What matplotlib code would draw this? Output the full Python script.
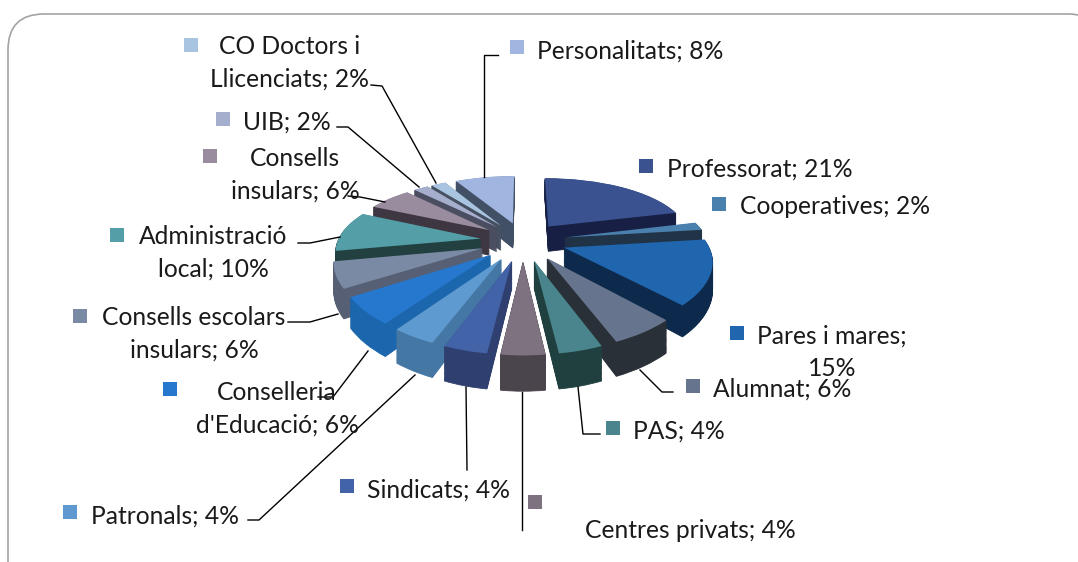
import numpy as np
import matplotlib
matplotlib.use('Agg')
import matplotlib.pyplot as plt
from matplotlib.patches import FancyBboxPatch, Rectangle
from matplotlib.transforms import Transform

plt.rcParams['font.family'] = ['Lato', 'DejaVu Sans']

# percentatges, clockwise from 12 o'clock
names = ['Professorat', 'Cooperatives', 'Pares i mares', 'Alumnat', 'PAS',
         'Centres privats', 'Sindicats', 'Patronals', "Conselleria\nd'Educació",
         'Consells escolars\ninsulars', 'Administració\nlocal', 'Consells\ninsulars',
         'UIB', 'CO Doctors i\nLlicenciats', 'Personalitats']
values = [21, 2, 15, 6, 4, 4, 4, 4, 6, 6, 10, 6, 2, 2, 8]

top_colors = ['#3a5390', '#4a80ae', '#1f66ae', '#66758d', '#4a858d', '#7f7280', '#4363a9',
              '#5e9acf', '#2678cf', '#7a8aa5', '#549ea8', '#9a8c9f', '#a6aece', '#a9c4e0', '#a0b5e0']
side_colors = ['#171f45', '#213347', '#0d2a4d', '#2a3038', '#20403f', '#4a444c', '#2f4070',
               '#4577a5', '#1b66ad', '#565f73', '#21403f', '#3e3640', '#4a4e60', '#465060', '#415064']

# label x, y, alignment / legend key x, y (pixels)
label_pos = [(667, 169, 'left'), (740, 207, 'left'), (832, 352, 'center'), (713, 389, 'left'),
             (633, 431, 'left'), (585, 531, 'left'), (367, 490, 'left'), (91, 516, 'left'),
             (277, 409, 'center'), (194, 334, 'center'), (213, 253, 'center'), (295, 175, 'center'),
             (243, 122, 'left'), (290, 63, 'center'), (537, 51, 'left')]
key_pos = [(646, 166), (719, 204), (737, 333), (693, 386), (613, 428), (535, 502), (347, 486),
           (70, 512), (170, 389), (80, 316), (117, 235), (210, 156), (223, 119), (191, 45), (517, 47)]
leaders = [[(640, 370), (662, 392), (673, 392)],
           [(578, 387), (583, 434), (600, 434)],
           [(522, 392), (522, 530)],
           [(466, 387), (467, 470)],
           [(415, 375), (259, 520), (248, 520)],
           [(368, 351), (333, 397), (318, 397)],
           [(338, 314), (310, 322), (288, 322)],
           [(340, 237), (310, 243), (298, 243)],
           [(385, 202), (360, 197), (348, 196)],
           [(419, 187), (348, 127), (337, 127)],
           [(436, 183), (382, 86), (371, 85)],
           [(484, 177), (484, 55), (498, 55)]]


class Tilt(Transform):
    # unit pie -> pixels, with the back of the pie further away
    input_dims = 2
    output_dims = 2
    is_separable = False
    has_inverse = False

    def __init__(self, z):
        super().__init__()
        self.z = z

    def transform_non_affine(self, values):
        v = np.asarray(values, dtype=float)
        s = 1 / (1 + 0.21 * v[:, 1])
        sx = 1 / (1 + 0.16 * v[:, 1])
        return np.column_stack([523 + 143 * v[:, 0] * sx, 241 - 64 * v[:, 1] * s + self.z * s])


fig = plt.figure(figsize=(10.78, 5.62), dpi=100)
ax = fig.add_axes([0, 0, 1, 1])

depth = 26
n_layers = 30
mids = (np.cumsum(values) - np.array(values) / 2) / sum(values) * 2 * np.pi
rank = np.argsort(np.argsort(np.cos(mids))[::-1])

for k in range(n_layers):
    z = depth * (1 - k / (n_layers - 1))
    top = k == n_layers - 1
    wedges, _ = ax.pie(values, startangle=90, counterclock=False, radius=1,
                       explode=[0.3] * len(values),
                       colors=top_colors if top else side_colors,
                       wedgeprops={'linewidth': 0 if top else 0.6})
    for i, w in enumerate(wedges):
        if not top:
            w.set_edgecolor(side_colors[i])
        w.set_transform(Tilt(z) + ax.transData)
        w.set_zorder(2 + rank[i] + k / 100)

ax.set_aspect('auto')
ax.set_xlim(0, 1078)
ax.set_ylim(562, 0)
ax.axis('off')

ax.add_patch(FancyBboxPatch((8, 14), 1096, 590, boxstyle='round,pad=0,rounding_size=36',
                            fc='none', ec='#a3a3a3', lw=1.2, zorder=1))

for line in leaders:
    ax.plot([p[0] for p in line], [p[1] for p in line], color='black', lw=1, zorder=30)

for i, name in enumerate(names):
    label = f'{name}; {values[i]}%'
    if name == 'Pares i mares':
        label = label.replace('; ', ';\n')
    x, y, ha = label_pos[i]
    ax.text(x, y, label, ha=ha, va='center', fontsize=17.7, color='#1a1a1a',
            multialignment='center', linespacing=1.5, zorder=31)
    kx, ky = key_pos[i]
    ax.add_patch(Rectangle((kx - 7, ky - 7), 14, 14, fc=top_colors[i], ec='none', zorder=31))

fig.savefig('out.png', dpi=100)
